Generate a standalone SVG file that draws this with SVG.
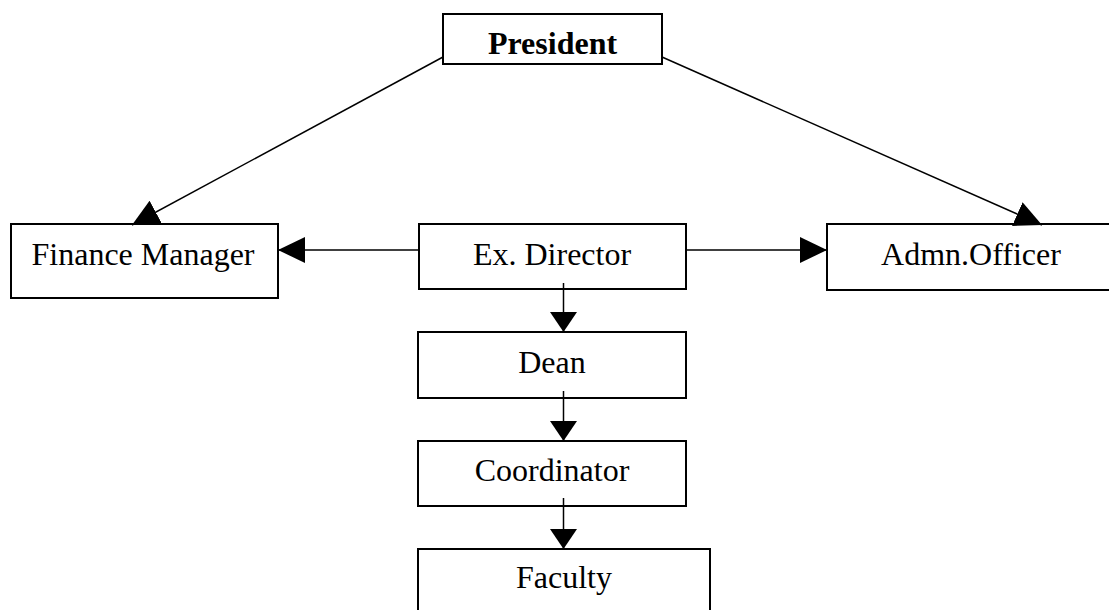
<svg xmlns="http://www.w3.org/2000/svg" width="1109" height="610" viewBox="0 0 1109 610">
<style>
.box{fill:#fff;stroke:#000;stroke-width:2}
.lbl{font-family:"Liberation Serif","Times New Roman",serif;font-size:32px;fill:#000;text-anchor:middle}
.bold{font-weight:bold}
.ln{stroke:#000;stroke-width:1.5;fill:none}
</style>
<defs>
<marker id="ah" markerUnits="userSpaceOnUse" markerWidth="27" markerHeight="26" refX="27" refY="13" orient="auto" viewBox="0 0 27 26">
<path d="M0,0 L27,13 L0,26 z" fill="#000"/>
</marker>
<marker id="av" markerUnits="userSpaceOnUse" markerWidth="20" markerHeight="27" refX="20" refY="13.5" orient="auto" viewBox="0 0 20 27">
<path d="M0,0 L20,13.5 L0,27 z" fill="#000"/>
</marker>
</defs>
<rect width="1109" height="610" fill="#fff"/>
<g id="president"><rect class="box" x="443" y="14" width="219" height="50"/><text class="lbl bold" x="552.5" y="54">President</text></g>
<g id="finance"><rect class="box" x="11" y="224" width="267" height="74"/><text class="lbl" x="143" y="265">Finance Manager</text></g>
<g id="exdirector"><rect class="box" x="419" y="224" width="267" height="65"/><text class="lbl" x="552" y="265">Ex. Director</text></g>
<g id="admn"><rect class="box" x="827" y="224" width="290" height="66"/><text class="lbl" x="971" y="265">Admn.Officer</text></g>
<g id="dean"><rect class="box" x="418" y="332" width="268" height="66"/><text class="lbl" x="552" y="373">Dean</text></g>
<g id="coordinator"><rect class="box" x="418" y="441" width="268" height="65"/><text class="lbl" x="552" y="481">Coordinator</text></g>
<g id="faculty"><rect class="box" x="418" y="549" width="292" height="80"/><text class="lbl" x="564" y="588">Faculty</text></g>
<g id="connectors">
<line class="ln" x1="443" y1="57" x2="132" y2="225" marker-end="url(#ah)"/>
<line class="ln" x1="662" y1="57" x2="1042" y2="225" marker-end="url(#ah)"/>
<line class="ln" x1="419" y1="250" x2="278" y2="250" marker-end="url(#ah)"/>
<line class="ln" x1="685" y1="250" x2="827" y2="250" marker-end="url(#ah)"/>
<line class="ln" x1="563.5" y1="283" x2="563.5" y2="332" marker-end="url(#av)"/>
<line class="ln" x1="563.5" y1="391" x2="563.5" y2="441" marker-end="url(#av)"/>
<line class="ln" x1="563.5" y1="498" x2="563.5" y2="549" marker-end="url(#av)"/>
</g>
</svg>
